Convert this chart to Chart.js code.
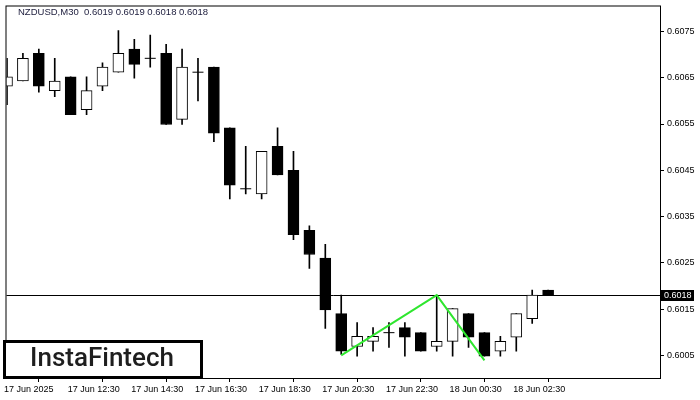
<!DOCTYPE html>
<html>
<head>
<meta charset="utf-8">
<script src="https://cdn.jsdelivr.net/npm/chart.js@4.4.1/dist/chart.umd.min.js"></script>
<style>
  html, body { margin: 0; padding: 0; background: #fff; }
  canvas { display: block; }
</style>
</head>
<body>
<canvas id="chart" width="700" height="400"></canvas>
<script>
const symbolTitle = "NZDUSD,M30  0.6019 0.6019 0.6018 0.6018";

// M30 candles, 17 Jun 10:30 .. 18 Jun 03:30
const opens  = [0.60632, 0.60643, 0.60703, 0.60622, 0.60652, 0.60581, 0.60632, 0.60662, 0.60712, 0.60692,
                0.60703, 0.60560, 0.60662, 0.60673, 0.60542, 0.60410, 0.60399, 0.60502, 0.60450, 0.60320,
                0.60260, 0.60140, 0.60069, 0.60080, 0.60099, 0.60110, 0.60099, 0.60069, 0.60080, 0.60140,
                0.60099, 0.60059, 0.60089, 0.60129, 0.60191];
const highs  = [0.60692, 0.60703, 0.60712, 0.60692, 0.60652, 0.60652, 0.60682, 0.60752, 0.60733, 0.60742,
                0.60722, 0.60712, 0.60692, 0.60673, 0.60542, 0.60502, 0.60491, 0.60542, 0.60491, 0.60330,
                0.60290, 0.60180, 0.60121, 0.60110, 0.60121, 0.60121, 0.60099, 0.60180, 0.60151, 0.60140,
                0.60099, 0.60091, 0.60140, 0.60191, 0.60191];
const lows   = [0.60592, 0.60643, 0.60619, 0.60609, 0.60570, 0.60570, 0.60622, 0.60662, 0.60649, 0.60673,
                0.60549, 0.60549, 0.60600, 0.60512, 0.60388, 0.60399, 0.60388, 0.60440, 0.60300, 0.60238,
                0.60108, 0.60052, 0.60048, 0.60059, 0.60067, 0.60048, 0.60059, 0.60059, 0.60048, 0.60067,
                0.60048, 0.60048, 0.60059, 0.60119, 0.60180];
const closes = [0.60652, 0.60692, 0.60632, 0.60643, 0.60570, 0.60622, 0.60673, 0.60703, 0.60679, 0.60692,
                0.60549, 0.60673, 0.60662, 0.60530, 0.60418, 0.60410, 0.60491, 0.60440, 0.60311, 0.60268,
                0.60148, 0.60059, 0.60091, 0.60091, 0.60099, 0.60089, 0.60059, 0.60080, 0.60151, 0.60089,
                0.60048, 0.60080, 0.60140, 0.60180, 0.60180];

const timeTickIdx = [0, 4, 8, 12, 16, 20, 24, 28, 32];
const timeLabels = ["17 Jun 2025", "17 Jun 12:30", "17 Jun 14:30", "17 Jun 16:30", "17 Jun 18:30",
                    "17 Jun 20:30", "17 Jun 22:30", "18 Jun 00:30", "18 Jun 02:30"];
const priceTicks = [0.6005, 0.6015, 0.6025, 0.6035, 0.6045, 0.6055, 0.6065, 0.6075];

// double top pattern line
const patternIdx = [21, 27, 30];
const patternPrices = [0.6005, 0.6018, 0.60039];

const lastPrice = 0.6018;

const idx = opens.map((_, i) => i);
const bodies = idx.map(i => ({ x: i, y: [opens[i], closes[i]] }));
const wicks = idx.map(i => ({ x: i, y: [lows[i], highs[i]] }));
const dojis = idx.filter(i => opens[i] === closes[i]).map(i => ({ x: i, y: opens[i] }));
const bodyFill = idx.map(i => closes[i] < opens[i] ? "#000" : "#fff");
const pattern = patternIdx.map((k, i) => ({ x: k, y: patternPrices[i] }));

const decor = {
  id: "decor",
  beforeDatasetsDraw(chart) {
    const { ctx, chartArea: a, scales } = chart;
    const y = Math.round(scales.y.getPixelForValue(lastPrice)) + 0.5;
    ctx.save();
    ctx.strokeStyle = "#000";
    ctx.lineWidth = 1;
    ctx.beginPath();
    ctx.moveTo(a.left, y);
    ctx.lineTo(a.right, y);
    ctx.stroke();
    ctx.restore();
  },
  afterDraw(chart) {
    const { ctx, chartArea: a, scales } = chart;
    ctx.save();
    // frame
    ctx.strokeStyle = "#000";
    ctx.lineWidth = 1;
    ctx.strokeRect(a.left - 0.5, a.top - 0.5, a.right - a.left + 1, a.bottom - a.top + 1);

    // title
    ctx.fillStyle = "#1c1c3c";
    ctx.font = "9.5px 'Liberation Sans'";
    ctx.textBaseline = "middle";
    ctx.textAlign = "left";
    ctx.fillText(symbolTitle, 18, 12);

    // current price box
    const py = Math.round(scales.y.getPixelForValue(lastPrice));
    ctx.fillStyle = "#000";
    ctx.fillRect(a.right + 1, py - 5, 33, 11);
    ctx.fillStyle = "#fff";
    ctx.font = "9px 'Liberation Sans'";
    ctx.fillText(lastPrice.toFixed(4), a.right + 4, py + 1);

    // logo
    ctx.fillStyle = "#fff";
    ctx.fillRect(4.5, 341.5, 197, 36);
    ctx.strokeStyle = "#000";
    ctx.lineWidth = 3;
    ctx.strokeRect(4.5, 341.5, 197, 36);
    ctx.fillStyle = "#1e1e1e";
    ctx.font = "500 26px Roboto";
    ctx.textAlign = "center";
    ctx.fillText("InstaFintech", 102, 359, 160);
    ctx.restore();
  }
};

new Chart(document.getElementById("chart"), {
  type: "bar",
  data: {
    datasets: [
      {
        type: "line",
        data: pattern,
        borderColor: "#2fe62f",
        borderWidth: 2,
        pointRadius: 0,
        tension: 0,
        order: -1
      },
      {
        type: "scatter",
        data: dojis,
        pointStyle: "line",
        radius: 5.5,
        borderColor: "#000",
        borderWidth: 1,
        order: 0
      },
      {
        data: bodies,
        backgroundColor: bodyFill,
        borderColor: "#000",
        borderWidth: 1,
        borderSkipped: false,
        barThickness: 11,
        grouped: false,
        order: 1
      },
      {
        data: wicks,
        backgroundColor: "#000",
        borderWidth: 0,
        barThickness: 1,
        grouped: false,
        order: 2
      }
    ]
  },
  options: {
    responsive: false,
    animation: false,
    layout: { padding: { left: 3, top: 3, right: 0, bottom: 0 } },
    plugins: {
      legend: { display: false },
      tooltip: { enabled: false }
    },
    scales: {
      x: {
        type: "linear",
        min: -0.03125,
        max: 41.03,
        offset: false,
        afterBuildTicks: s => { s.ticks = timeTickIdx.map(v => ({ value: v })); },
        afterFit: s => { s.height = 22; s.paddingLeft = 0; s.paddingRight = 0; },
        ticks: {
          autoSkip: false,
          maxRotation: 0,
          align: "start",
          labelOffset: -3,
          padding: 2,
          color: "#000",
          font: { family: "Liberation Sans", size: 9 },
          callback: (v, i) => timeLabels[i]
        },
        grid: { drawOnChartArea: false, tickLength: 4, color: "#000" },
        border: { display: false }
      },
      y: {
        position: "right",
        min: 0.60001,
        max: 0.60804,
        afterBuildTicks: s => { s.ticks = priceTicks.map(v => ({ value: v })); },
        afterFit: s => { s.width = 40; s.paddingTop = 0; s.paddingBottom = 0; },
        ticks: {
          padding: 3,
          color: "#000",
          font: { family: "Liberation Sans", size: 9 },
          callback: v => v.toFixed(4)
        },
        grid: { drawOnChartArea: false, tickLength: 4, color: "#000" },
        border: { display: false }
      }
    }
  },
  plugins: [decor]
});
</script>
</body>
</html>
